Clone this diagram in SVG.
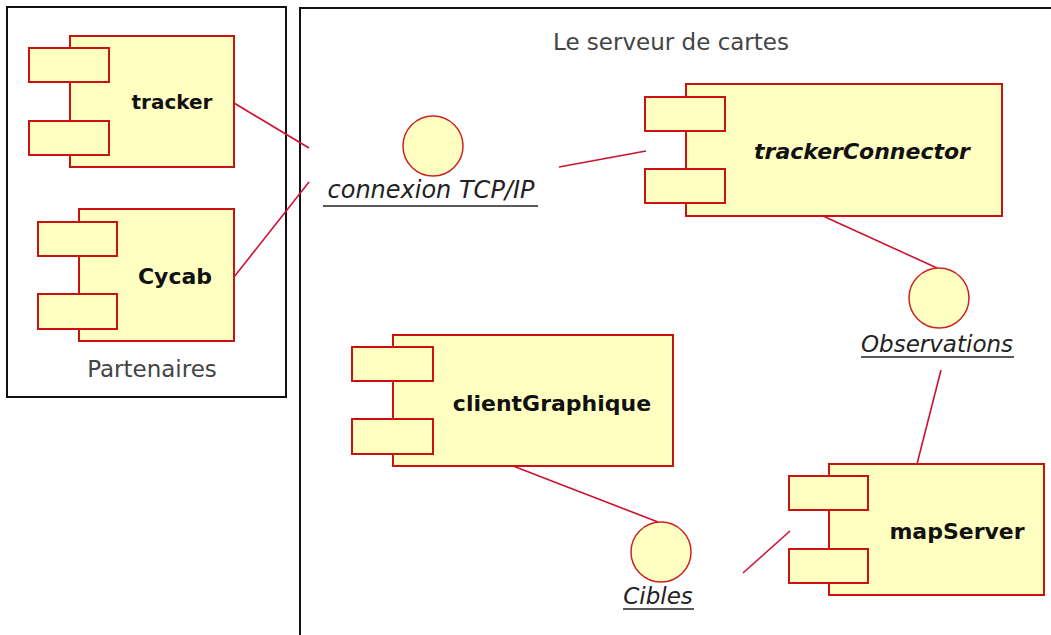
<svg xmlns="http://www.w3.org/2000/svg" width="1051" height="635" viewBox="0 0 1051 635">
<style>
.box{fill:#ffffc2;stroke:#cc1111;stroke-width:2}
.port{fill:#ffffc2;stroke:#cc1111;stroke-width:2}
.iface{fill:#ffffc2;stroke:#cc2222;stroke-width:1.5}
.conn{stroke:#cc1133;stroke-width:1.6;fill:none}
.frame{fill:none;stroke:#111;stroke-width:2}
.name{font-family:"DejaVu Sans",sans-serif;font-weight:bold;font-size:22px;fill:#111;text-anchor:middle}
.lbl{font-family:"DejaVu Sans",sans-serif;font-style:italic;font-size:23px;fill:#222;text-anchor:middle}
.title{font-family:"DejaVu Sans",sans-serif;font-size:23px;fill:#444}
.ul{stroke:#222;stroke-width:1.5}
</style>
<rect width="1051" height="635" fill="#fff"/>
<g id="frames">
<rect class="frame" x="7" y="7" width="279" height="390"/>
<path class="frame" d="M300,635 V8 H1051"/>
<text class="title" x="553" y="50">Le serveur de cartes</text>
<text class="title" x="152" y="377" text-anchor="middle">Partenaires</text>
</g>
<g id="connectors">
<line class="conn" x1="234" y1="103" x2="309" y2="148"/>
<line class="conn" x1="234" y1="277" x2="309" y2="182"/>
<line class="conn" x1="559" y1="167" x2="646" y2="151"/>
<line class="conn" x1="823" y1="216" x2="937" y2="268"/>
<line class="conn" x1="941" y1="370" x2="917" y2="464"/>
<line class="conn" x1="513" y1="466" x2="658" y2="522"/>
<line class="conn" x1="743" y1="573" x2="790" y2="531"/>
</g>
<g id="tracker">
<rect class="box" x="70" y="36" width="164" height="131"/>
<rect class="port" x="29" y="48" width="80" height="34"/>
<rect class="port" x="29" y="121" width="80" height="34"/>
<text class="name" x="172" y="109" style="font-size:20px">tracker</text>
</g>
<g id="cycab">
<rect class="box" x="79" y="209" width="155" height="132"/>
<rect class="port" x="38" y="222" width="79" height="34"/>
<rect class="port" x="38" y="294" width="79" height="35"/>
<text class="name" x="175" y="284">Cycab</text>
</g>
<g id="tcpip">
<circle class="iface" cx="433" cy="146" r="30"/>
<text class="lbl" x="431" y="198" style="font-size:24px">connexion TCP/IP</text>
<line class="ul" x1="323" y1="206" x2="538" y2="206"/>
</g>
<g id="trackerConnector">
<rect class="box" x="686" y="84" width="316" height="132"/>
<rect class="port" x="645" y="97" width="80" height="34"/>
<rect class="port" x="645" y="169" width="80" height="34"/>
<text class="name" x="862" y="159" font-style="italic">trackerConnector</text>
</g>
<g id="observations">
<circle class="iface" cx="939" cy="298" r="30"/>
<text class="lbl" x="937" y="352">Observations</text>
<line class="ul" x1="861" y1="357" x2="1014" y2="357"/>
</g>
<g id="clientGraphique">
<rect class="box" x="393" y="335" width="280" height="131"/>
<rect class="port" x="352" y="347" width="81" height="34"/>
<rect class="port" x="352" y="419" width="81" height="35"/>
<text class="name" x="552" y="411">clientGraphique</text>
</g>
<g id="cibles">
<circle class="iface" cx="661" cy="552" r="30"/>
<text class="lbl" x="658" y="604">Cibles</text>
<line class="ul" x1="623" y1="609" x2="694" y2="609"/>
</g>
<g id="mapServer">
<rect class="box" x="829" y="464" width="215" height="131"/>
<rect class="port" x="789" y="476" width="79" height="34"/>
<rect class="port" x="789" y="549" width="79" height="34"/>
<text class="name" x="957" y="539">mapServer</text>
</g>
</svg>
